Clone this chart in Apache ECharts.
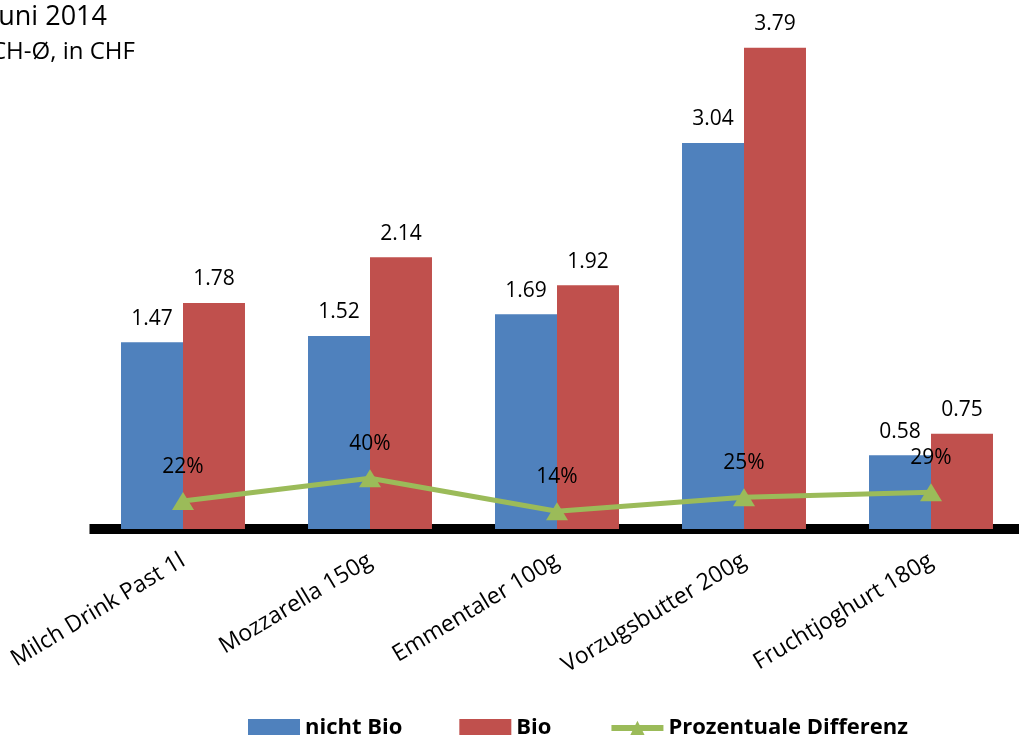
<!DOCTYPE html>
<html>
<head>
<meta charset="utf-8">
<script src="https://cdn.jsdelivr.net/npm/echarts@6/dist/echarts.min.js"></script>
<style>
  html, body { margin: 0; padding: 0; background: #fff; overflow: hidden; width: 1019px; height: 735px; }
  #chart { width: 1030px; height: 735px; }
</style>
</head>
<body>
<div id="chart"></div>
<script>
var categories = ['Milch Drink Past 1l', 'Mozzarella 150g', 'Emmentaler 100g', 'Vorzugsbutter 200g', 'Fruchtjoghurt 180g'];
var nichtBio = [1.47, 1.52, 1.69, 3.04, 0.58];
var bio = [1.78, 2.14, 1.92, 3.79, 0.75];
var differenz = [0.22, 0.40, 0.14, 0.25, 0.29];

var font = 'Open Sans';
var chart = echarts.init(document.getElementById('chart'));

// Beschriftung für Balken
var barLabel = { show: true, position: 'top', distance: 13, fontSize: 21, color: '#000', fontFamily: font };

var option = {
  animation: false,
  textStyle: { fontFamily: font },
  title: {
    text: 'Juni 2014',
    subtext: 'CH-Ø, in CHF',
    left: -9,
    top: 4,
    padding: 0,
    itemGap: 9,
    textStyle: { fontFamily: font, fontSize: 27, fontWeight: 'normal', color: '#000' },
    subtextStyle: { fontFamily: font, fontSize: 24, color: '#000' }
  },
  legend: {
    left: 248,
    top: 717,
    padding: 0,
    itemGap: 57,
    itemWidth: 52,
    itemHeight: 18,
    textStyle: { fontFamily: font, fontSize: 22, fontWeight: 'bold', color: '#000' },
    data: [
      { name: 'nicht Bio', icon: 'rect' },
      { name: 'Bio', icon: 'rect' },
      { name: 'Prozentuale Differenz', lineStyle: { width: 6 } }
    ]
  },
  grid: { left: 89.5, right: 5.5, top: 21, bottom: 206, containLabel: false },
  xAxis: {
    type: 'category',
    data: categories,
    axisLine: { lineStyle: { color: '#000', width: 10, cap: 'butt' } },
    axisTick: { show: false },
    axisLabel: { rotate: 31, margin: 30, fontSize: 23, color: '#000', fontFamily: font, interval: 0 }
  },
  yAxis: {
    type: 'value',
    min: 0,
    max: 4,
    show: false,
    splitLine: { show: false }
  },
  series: [
    {
      name: 'nicht Bio',
      type: 'bar',
      data: nichtBio,
      barGap: '0%',
      barCategoryGap: '33.7%',
      itemStyle: { color: '#4F81BD' },
      label: barLabel
    },
    {
      name: 'Bio',
      type: 'bar',
      data: bio,
      itemStyle: { color: '#C0504D' },
      label: barLabel
    },
    {
      name: 'Prozentuale Differenz',
      type: 'line',
      data: differenz,
      symbol: 'triangle',
      symbolSize: [22, 18],
      lineStyle: { color: '#9BBB59', width: 5 },
      itemStyle: { color: '#9BBB59' },
      label: {
        show: true,
        position: 'top',
        distance: 15,
        fontSize: 21,
        color: '#000',
        fontFamily: font,
        formatter: function (p) { return Math.round(p.value * 100) + '%'; }
      },
      z: 5
    }
  ]
};

chart.setOption(option);
</script>
</body>
</html>
